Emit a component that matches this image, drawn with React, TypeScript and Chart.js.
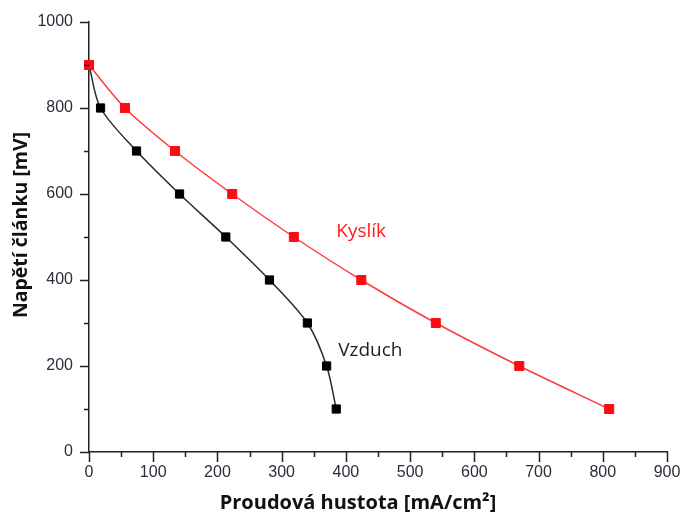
import React, { useEffect, useRef } from 'react';
import { Chart, registerables } from 'chart.js';

Chart.register(...registerables);

// ---- data ----
const kyslikCurrent = [0, 56, 134, 223, 319, 424, 540, 670, 810];
const kyslikVoltage = [900, 800, 700, 600, 500, 400, 300, 200, 100];
const vzduchCurrent = [0, 18, 74, 141, 213, 281, 340, 370, 385];
const vzduchVoltage = [900, 800, 700, 600, 500, 400, 300, 200, 100];
const seriesNames = ['Kyslík', 'Vzduch'];
const xTitle = 'Proudová hustota [mA/cm²]';
const yTitle = 'Napětí článku [mV]';
const xRange = [0, 900];
const yRange = [0, 1000];
const xMajorStep = 100;
const xMinorStep = 50;
const yMajorStep = 200;
const yMinorStep = 100;
// label anchors (data coordinates)
const kyslikLabelAt = [385, 512];
const vzduchLabelAt = [388, 235];

const AXIS = '#222222';
const TICK_TEXT = '#2b2d3a';

const decorPlugin = {
  id: 'decor',
  afterDraw(chart: any) {
    const { ctx, chartArea, scales } = chart;
    const xs = scales.x;
    const ys = scales.y;
    ctx.save();
    ctx.strokeStyle = AXIS;
    ctx.lineWidth = 1.5;
    ctx.beginPath();
    for (let v = yRange[0]; v <= yRange[1]; v += yMinorStep) {
      const py = Math.round(ys.getPixelForValue(v)) + 0.5;
      const len = v % yMajorStep === 0 ? 9 : 5;
      ctx.moveTo(chartArea.left - len, py);
      ctx.lineTo(chartArea.left, py);
    }
    for (let v = xRange[0]; v <= xRange[1]; v += xMinorStep) {
      const px = Math.round(xs.getPixelForValue(v)) + 0.5;
      const len = v % xMajorStep === 0 ? 10 : 5;
      ctx.moveTo(px, chartArea.bottom);
      ctx.lineTo(px, chartArea.bottom + len);
    }
    ctx.stroke();

    // series labels
    ctx.font = '19px "Open Sans"';
    ctx.textAlign = 'left';
    ctx.textBaseline = 'middle';
    ctx.fillStyle = '#ff1a1a';
    ctx.fillText(seriesNames[0], xs.getPixelForValue(kyslikLabelAt[0]), ys.getPixelForValue(kyslikLabelAt[1]));
    ctx.fillStyle = '#1c1e30';
    ctx.fillText(seriesNames[1], xs.getPixelForValue(vzduchLabelAt[0]), ys.getPixelForValue(vzduchLabelAt[1]));

    // axis titles
    ctx.fillStyle = '#111111';
    ctx.textAlign = 'center';
    ctx.textBaseline = 'alphabetic';
    ctx.font = 'bold 20px "Open Sans"';
    ctx.fillText(xTitle, chartArea.left + 269, chartArea.bottom + 57);
    ctx.save();
    ctx.translate(27, chartArea.top + 203);
    ctx.rotate(-Math.PI / 2);
    ctx.font = 'bold 19.5px "Open Sans"';
    ctx.fillText(yTitle, 0, 0);
    ctx.restore();
    ctx.restore();
  },
};

export default function App() {
  const ref = useRef<HTMLCanvasElement>(null);
  useEffect(() => {
    if (!ref.current) return;
    const tickFont = { family: '"Liberation Sans", Arial, sans-serif', size: 16 };
    const chart = new Chart(ref.current, {
      type: 'scatter',
      data: {
        datasets: [
          {
            label: seriesNames[0],
            data: kyslikCurrent.map((x, i) => ({ x, y: kyslikVoltage[i] })),
            showLine: true,
            borderColor: '#ff3a3a',
            borderWidth: 1.5,
            backgroundColor: '#ff0a14',
            pointBackgroundColor: '#ff0a14',
            pointBorderColor: '#ff0a14',
            pointBorderWidth: 1,
            pointStyle: 'rect',
            pointRadius: 6.4,
            tension: 0.3,
            clip: false,
          } as any,
          {
            label: seriesNames[1],
            data: vzduchCurrent.map((x, i) => ({ x, y: vzduchVoltage[i] })),
            showLine: true,
            borderColor: '#2a2a2a',
            borderWidth: 1.5,
            backgroundColor: '#000000',
            pointBackgroundColor: '#000000',
            pointBorderColor: '#000000',
            pointBorderWidth: 1,
            pointStyle: 'rect',
            pointRadius: 5.8,
            tension: 0.3,
            clip: false,
          } as any,
        ],
      },
      options: {
        animation: false,
        responsive: false,
        devicePixelRatio: 1,
        layout: { padding: { left: 0, right: 16, top: 22, bottom: 0 } },
        plugins: { legend: { display: false }, tooltip: { enabled: false } },
        scales: {
          x: {
            type: 'linear',
            min: xRange[0],
            max: xRange[1],
            afterFit: (s: any) => { s.height = 64; },
            ticks: { stepSize: xMajorStep, color: TICK_TEXT, font: tickFont, padding: 2, maxRotation: 0, callback: (v: any) => String(v) },
            grid: { display: true, drawOnChartArea: false, drawTicks: true, tickLength: 9, tickColor: 'rgba(0,0,0,0)' },
            border: { display: true, color: AXIS, width: 1.5 },
            title: { display: false },
          },
          y: {
            type: 'linear',
            min: yRange[0],
            max: yRange[1],
            afterFit: (s: any) => { s.width = 89; },
            ticks: { stepSize: yMajorStep, color: TICK_TEXT, font: tickFont, padding: 7, callback: (v: any) => String(v) },
            grid: { display: true, drawOnChartArea: false, drawTicks: true, tickLength: 9, tickColor: 'rgba(0,0,0,0)' },
            border: { display: true, color: AXIS, width: 1.5 },
            title: { display: false },
          },
        },
      } as any,
      plugins: [decorPlugin],
    });
    return () => chart.destroy();
  }, []);
  return (
    <div style={{ position: 'absolute', left: 0, top: 0, width: 683, height: 516, background: '#fff' }}>
      <canvas ref={ref} width={683} height={516} style={{ display: 'block' }} />
    </div>
  );
}
